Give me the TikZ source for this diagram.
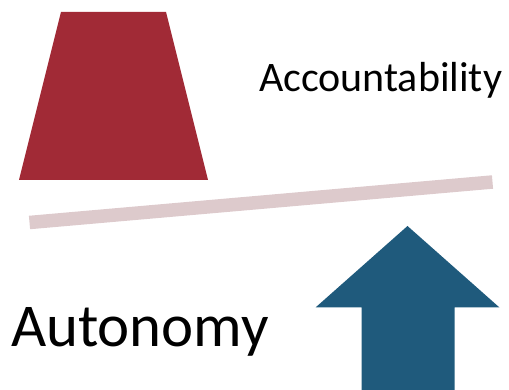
\documentclass[tikz,border=0pt]{standalone}
\usepackage{fontspec}
\setmainfont{Carlito}
\definecolor{weightred}{HTML}{A12A36}
\definecolor{beampink}{HTML}{DDCACC}
\definecolor{pushblue}{HTML}{1F5A7C}
\begin{document}
\begin{tikzpicture}[x=1pt,y=-1pt,
  label/.style={anchor=base west,inner sep=0pt,outer sep=0pt,text=black}]
\useasboundingbox (0,0) rectangle (509,390);
% trapezoid weight
\fill[weightred] (61,12) -- (166,12) -- (208,180) -- (19,180) -- cycle;
% beam
\draw[beampink,line width=13.5pt] (29.5,222.5) -- (492.5,182);
% arrow
\fill[pushblue] (407.5,226) -- (499.5,307.5) -- (454.5,307.5) -- (454.5,391) -- (361.5,391) -- (361.5,307.5) -- (315.5,307.5) -- cycle;
% labels
\node[label,font=\fontsize{42}{48}\selectfont] (acc) at (259,92) {Accountability};
\node[label,font=\fontsize{60.8}{70}\selectfont] (aut) at (11,346) {Autonomy};
\end{tikzpicture}
\end{document}
